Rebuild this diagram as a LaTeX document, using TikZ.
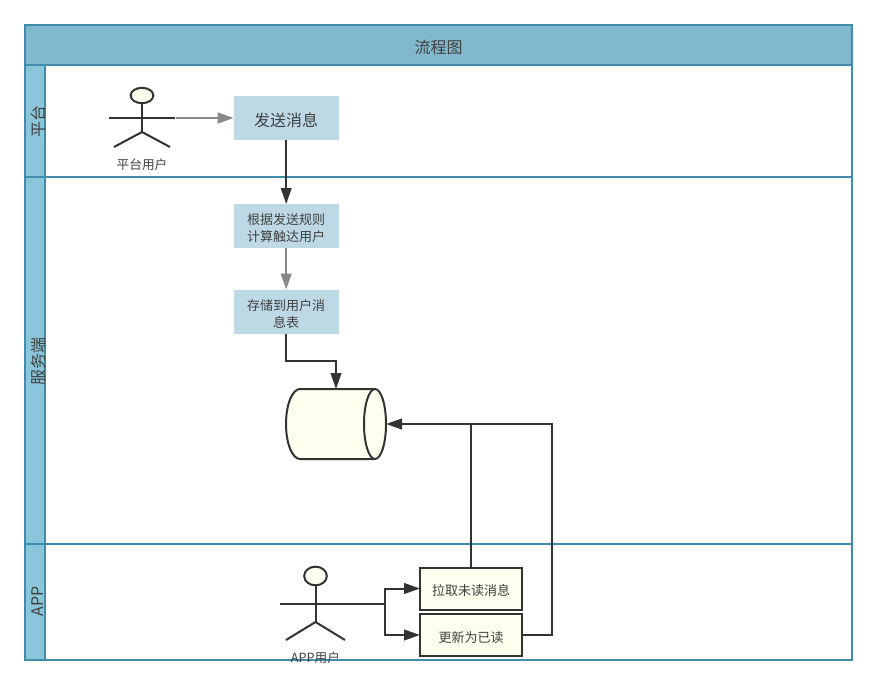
\documentclass[tikz,border=0pt]{standalone}
\usepackage{fontspec}
\setmainfont{Noto Sans CJK SC}
\usetikzlibrary{arrows.meta,shapes.geometric}

\definecolor{poolline}{HTML}{3F8DA9}
\definecolor{poolhead}{HTML}{81B8CE}
\definecolor{lanehead}{HTML}{8AC5D9}
\definecolor{stepblue}{HTML}{BDD9E6}
\definecolor{noteyellow}{HTML}{FFFFF0}
\definecolor{inkdark}{HTML}{333333}
\definecolor{inkgray}{HTML}{888888}
\definecolor{textgray}{HTML}{404040}

\newcommand{\lowtext}[1]{\raisebox{-3pt}[\height][\depth]{\begin{tabular}{@{}c@{}}#1\end{tabular}}}

\tikzset{
	every picture/.style={line width=1.5pt},
	poolframe/.style={draw=poolline,line width=1.5pt},
	lanelabel/.style={text=textgray,font=\fontsize{12}{14}\selectfont,rotate=90,inner sep=0pt},
	stepblue/.style={fill=stepblue,text=textgray,inner sep=0pt,outer sep=0pt,minimum width=78.75pt,minimum height=33pt,font=\fontsize{9.75}{12.75}\selectfont},
	stepyellow/.style={draw=inkdark,fill=noteyellow,text=textgray,inner sep=0pt,outer sep=0pt,minimum width=76.5pt,minimum height=31.5pt,font=\fontsize{9.75}{12.75}\selectfont},
	actorhead/.style={ellipse,draw=inkdark,fill=noteyellow,inner sep=0pt,outer sep=0pt},
	actorlabel/.style={text=textgray,inner sep=0pt,font=\fontsize{9.5}{12}\selectfont},
	limb/.style={draw=inkdark},
	flow/.style={draw=inkdark,-{Triangle[length=12pt,width=8pt]}},
	flowgray/.style={draw=inkgray,-{Triangle[length=12pt,width=8pt]}},
	link/.style={draw=inkdark},
}

\begin{document}
\begin{tikzpicture}[x=0.75pt,y=0.75pt,yscale=-1,xscale=1]
	\useasboundingbox (0,0) rectangle (877,685);
	
	%Shape: Pool
	\draw [poolframe,fill=poolhead] (25,25) rectangle (852,65);
	\draw [poolframe,fill=white] (25,65) rectangle (852,660);
	%Shape: Lane heads
	\draw [poolframe,fill=lanehead] (25,65) rectangle (45,177);
	\draw [poolframe,fill=lanehead] (25,177) rectangle (45,544);
	\draw [poolframe,fill=lanehead] (25,544) rectangle (45,660);
	%Straight Lines: lane borders
	\draw [poolframe] (45,177) -- (852,177);
	\draw [poolframe] (45,544) -- (852,544);
	
	% Text Node
	\node [text=textgray,font=\fontsize{12}{14}\selectfont] (title) at (438.5,47) {流程图};
	\node [lanelabel] (laneplat) at (38,121) {平台};
	\node [lanelabel] (laneserver) at (38,361) {服务端};
	\node [lanelabel] (laneapp) at (37.5,601) {APP};
	
	%Shape: Steps
	\node [stepblue,font=\fontsize{12}{14}\selectfont] (send) at (286.2,118) {\lowtext{发送消息}};
	\node [stepblue] (calc) at (286.2,226) {\lowtext{根据发送规则\\计算触达用户}};
	\node [stepblue] (store) at (286.2,311.5) {\lowtext{存储到用户消\\息表}};
	\node [stepyellow] (pull) at (471,588.5) {\lowtext{拉取未读消息}};
	\node [stepyellow] (update) at (471,635) {\lowtext{更新为已读}};
	
	%Shape: Can
	\node [inner sep=0pt,outer sep=0pt,minimum width=75pt,minimum height=52.5pt] (can) at (336,424) {};
	\draw [draw=inkdark,fill=noteyellow] (300,389) -- (375,389) arc [start angle=-90,end angle=90,x radius=11,y radius=35] -- (300,459) arc [start angle=90,end angle=270,x radius=14,y radius=35] -- cycle;
	\draw [draw=inkdark] (375,389) arc [start angle=270,end angle=90,x radius=11,y radius=35];
	
	%Shape: Actor, platform user
	\node [actorhead,minimum width=17pt,minimum height=11.5pt] (headplat) at (142,95.5) {};
	\coordinate (hipplat) at (142,132);
	\coordinate (lefthandplat) at (109,118);
	\coordinate (handplat) at (175,118);
	\coordinate (leftfootplat) at (114,147);
	\coordinate (rightfootplat) at (170,147);
	\draw [limb] (headplat.south) -- (hipplat);
	\draw [limb] (lefthandplat) -- (handplat);
	\draw [limb] (leftfootplat) -- (hipplat) -- (rightfootplat);
	\node [actorlabel] (userplat) at (142,164.5) {平台用户};
	
	%Shape: Actor, app user
	\node [actorhead,minimum width=17pt,minimum height=14pt] (headapp) at (315.5,576) {};
	\coordinate (hipapp) at (315.5,622);
	\coordinate (lefthandapp) at (280,604);
	\coordinate (handapp) at (350,604);
	\coordinate (leftfootapp) at (286,640);
	\coordinate (rightfootapp) at (345,640);
	\draw [limb] (headapp.south) -- (hipapp);
	\draw [limb] (lefthandapp) -- (handapp);
	\draw [limb] (leftfootapp) -- (hipapp) -- (rightfootapp);
	\node [actorlabel] (userapp) at (315.5,657.5) {APP用户};
	
	%Straight Lines
	\coordinate (bendstore) at (311,361);
	\coordinate (forkapp) at (385,604);
	\coordinate (bendupdate) at (552,635);
	\draw [flowgray] (handplat) ++(1,0) -- (send.west);
	\draw [flow] (send.south) -- (calc.north);
	\draw [flowgray] (calc.south) -- (store.north);
	\draw [flow] (store.south) |- (bendstore) -| (can.north);
	\draw [flow] (pull.north) |- (can.east);
	\draw [link] (update.east) -- (bendupdate) |- (pull.north |- can.east);
	\draw [link] (handapp) -- (forkapp);
	\draw [flow] (forkapp) |- (pull.west);
	\draw [flow] (forkapp) |- (update.west);
	
\end{tikzpicture}
\end{document}
